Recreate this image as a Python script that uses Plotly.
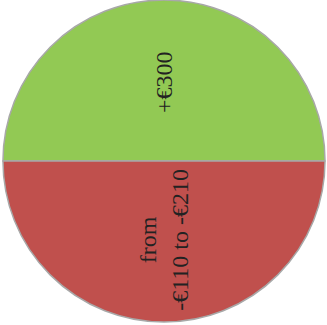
import plotly.graph_objects as go

# Two outcome bands, shown as equal halves
labels = ["+€300", "from<br>-€110 to -€210"]
shares = [1, 1]
colors = ["#92C954", "#C0504D"]

fig = go.Figure(
    go.Pie(
        labels=labels,
        values=shares,
        text=labels,
        textinfo="text",
        textposition="inside",
        insidetextorientation="radial",
        sort=False,
        direction="clockwise",
        rotation=-90,
        domain=dict(x=[0.006, 0.997], y=[0.009, 1.0]),
        marker=dict(colors=colors, line=dict(color="#A8A8A8", width=1.5)),
        textfont=dict(family="Liberation Serif", size=24, color="#222222"),
        hoverinfo="label",
        showlegend=False,
    )
)

fig.update_layout(
    width=327,
    height=325,
    margin=dict(l=0, r=0, t=0, b=0),
    paper_bgcolor="white",
    plot_bgcolor="white",
    uniformtext=dict(minsize=24, mode="show"),
)

fig.write_html("out.html")
